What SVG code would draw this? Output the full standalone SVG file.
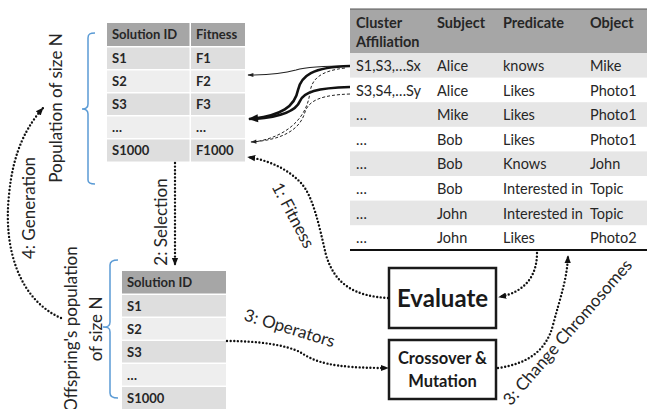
<svg xmlns="http://www.w3.org/2000/svg" width="647" height="409" viewBox="0 0 647 409">
<defs>
<style>
text{font-family:Lato,"Liberation Sans",sans-serif;fill:#262626}
.lbl{font-size:17px}
.tb{font-size:13px;font-weight:bold}
.rt{font-size:14.5px}
.rh{font-size:14.5px;font-weight:bold}
.hd{fill:#a6a6a6}
.g1{fill:#dedede}
.g2{fill:#eeeeee}
.rg{fill:#e6e6e6}
.brace{fill:none;stroke:#5b9bd5;stroke-width:1.5}
.dot{fill:none;stroke:#111;stroke-width:2.4;stroke-linecap:round;stroke-dasharray:0 3.6}
.box{fill:#fff;stroke:#1a1a1a;stroke-width:2.5}
.thin{fill:none;stroke:#222;stroke-width:1.1}
.thick{fill:none;stroke:#111;stroke-width:2.6}
.dash{fill:none;stroke:#222;stroke-width:1;stroke-dasharray:3 2}
</style>
<marker id="ad" viewBox="0 0 10 10" refX="9" refY="5" markerWidth="8" markerHeight="8" markerUnits="userSpaceOnUse" orient="auto"><path d="M0,1 L10,5 L0,9 z" fill="#111"/></marker>
<marker id="at" viewBox="0 0 10 10" refX="9" refY="5" markerWidth="7" markerHeight="6" markerUnits="userSpaceOnUse" orient="auto"><path d="M0,1.5 L10,5 L0,8.5 z" fill="#222"/></marker>
<marker id="ak" viewBox="0 0 10 10" refX="9" refY="5" markerWidth="11" markerHeight="10" markerUnits="userSpaceOnUse" orient="auto"><path d="M0,1 L10,5 L0,9 z" fill="#111"/></marker>
</defs>

<g id="population">
<rect class="hd" x="107" y="23" width="82.5" height="23"/>
<rect class="hd" x="191" y="23" width="54" height="23"/>
<rect class="g1" x="107" y="47.5" width="82.5" height="21.5"/><rect class="g1" x="191" y="47.5" width="54" height="21.5"/>
<rect class="g2" x="107" y="70.5" width="82.5" height="21.5"/><rect class="g2" x="191" y="70.5" width="54" height="21.5"/>
<rect class="g1" x="107" y="93.5" width="82.5" height="21.5"/><rect class="g1" x="191" y="93.5" width="54" height="21.5"/>
<rect class="g2" x="107" y="116.5" width="82.5" height="21.5"/><rect class="g2" x="191" y="116.5" width="54" height="21.5"/>
<rect class="g1" x="107" y="139.5" width="82.5" height="22"/><rect class="g1" x="191" y="139.5" width="54" height="22"/>
<text class="tb" x="112" y="39">Solution ID</text><text class="tb" x="196" y="39">Fitness</text>
<text class="tb" x="112" y="63">S1</text><text class="tb" x="196" y="63">F1</text>
<text class="tb" x="112" y="86">S2</text><text class="tb" x="196" y="86">F2</text>
<text class="tb" x="112" y="109">S3</text><text class="tb" x="196" y="109">F3</text>
<text class="tb" x="112" y="132">…</text><text class="tb" x="196" y="132">…</text>
<text class="tb" x="112" y="155">S1000</text><text class="tb" x="196" y="155">F1000</text>
<path class="brace" d="M95,33 C90,33 88,34 88,38 L88,104 C88,108 86,109 82,109 C86,109 88,110 88,114 L88,180 C88,183 90,184 95,184"/>
<text class="lbl" transform="translate(62,108) rotate(-90)" text-anchor="middle">Population of size N</text>
</g>

<g id="offspring">
<rect class="hd" x="122" y="271" width="104" height="22.5"/>
<rect class="g1" x="122" y="295" width="104" height="21.5"/>
<rect class="g2" x="122" y="318" width="104" height="21.5"/>
<rect class="g1" x="122" y="341" width="104" height="21.5"/>
<rect class="g2" x="122" y="364" width="104" height="21.5"/>
<rect class="g1" x="122" y="387" width="104" height="22"/>
<text class="tb" x="127" y="287">Solution ID</text>
<text class="tb" x="127" y="311">S1</text>
<text class="tb" x="127" y="334">S2</text>
<text class="tb" x="127" y="357">S3</text>
<text class="tb" x="127" y="380">…</text>
<text class="tb" x="127" y="403">S1000</text>
<path class="brace" d="M118,260 C113,260 110,261 110,265 L110,322 C110,326 108,327 103,327 C108,327 110,328 110,332 L110,393 C110,397 113,398 118,398"/>
<text class="lbl" transform="translate(77,329) rotate(-90)" text-anchor="middle">Offspring's population</text>
<text class="lbl" transform="translate(102,329) rotate(-90)" text-anchor="middle">of size N</text>
</g>

<g id="triples">
<rect class="hd" x="350" y="9" width="297" height="44"/>
<line x1="350" y1="9" x2="647" y2="9" stroke="#555" stroke-width="1.2"/>
<rect class="rg" x="350" y="53" width="297" height="24.6"/>
<rect class="rg" x="350" y="102.2" width="297" height="24.6"/>
<rect class="rg" x="350" y="151.4" width="297" height="24.6"/>
<rect class="rg" x="350" y="200.6" width="297" height="24.6"/>
<line x1="350" y1="250" x2="647" y2="250" stroke="#111" stroke-width="2"/>
<text class="rh" x="356" y="28">Cluster</text><text class="rh" x="356" y="47">Affiliation</text>
<text class="rh" x="437" y="28">Subject</text><text class="rh" x="503" y="28">Predicate</text><text class="rh" x="590" y="28">Object</text>
<text class="rt" x="356" y="71">S1,S3,…Sx</text><text class="rt" x="437" y="71">Alice</text><text class="rt" x="503" y="71">knows</text><text class="rt" x="590" y="71">Mike</text>
<text class="rt" x="356" y="95.6">S3,S4,…Sy</text><text class="rt" x="437" y="95.6">Alice</text><text class="rt" x="503" y="95.6">Likes</text><text class="rt" x="590" y="95.6">Photo1</text>
<text class="rt" x="356" y="120.2">…</text><text class="rt" x="437" y="120.2">Mike</text><text class="rt" x="503" y="120.2">Likes</text><text class="rt" x="590" y="120.2">Photo1</text>
<text class="rt" x="356" y="144.8">…</text><text class="rt" x="437" y="144.8">Bob</text><text class="rt" x="503" y="144.8">Likes</text><text class="rt" x="590" y="144.8">Photo1</text>
<text class="rt" x="356" y="169.4">…</text><text class="rt" x="437" y="169.4">Bob</text><text class="rt" x="503" y="169.4">Knows</text><text class="rt" x="590" y="169.4">John</text>
<text class="rt" x="356" y="194">…</text><text class="rt" x="437" y="194">Bob</text><text class="rt" x="503" y="194">Interested in</text><text class="rt" x="590" y="194">Topic</text>
<text class="rt" x="356" y="218.6">…</text><text class="rt" x="437" y="218.6">John</text><text class="rt" x="503" y="218.6">Interested in</text><text class="rt" x="590" y="218.6">Topic</text>
<text class="rt" x="356" y="243.2">…</text><text class="rt" x="437" y="243.2">John</text><text class="rt" x="503" y="243.2">Likes</text><text class="rt" x="590" y="243.2">Photo2</text>
</g>

<g id="evaluate">
<rect class="box" x="389" y="268" width="107" height="60"/>
<text x="442.5" y="307" text-anchor="middle" font-size="24" font-weight="bold" style="fill:#1a1a1a">Evaluate</text>
</g>

<g id="crossover">
<rect class="box" x="389" y="340" width="107" height="59"/>
<text x="442.5" y="364" text-anchor="middle" font-size="16.5" font-weight="bold" style="fill:#1a1a1a">Crossover &amp;</text>
<text x="442.5" y="387" text-anchor="middle" font-size="16.5" font-weight="bold" style="fill:#1a1a1a">Mutation</text>
</g>

<g id="connectors">
<path class="thin" d="M350,66 C322,66 306,67 296,70 C285,73 270,75 248,75" marker-end="url(#at)"/>
<path class="thick" d="M350,66 C312,67 301,76 298,90 C295,106 282,116 249,119" marker-end="url(#ak)"/>
<path class="thick" d="M350,87 C316,88 304,92 300,101 C296,111 280,117 255,119"/>
<path class="dash" d="M350,94 C322,95 309,100 305,112 C300,130 282,140 251,142" marker-end="url(#at)"/>
<path class="dash" d="M345,68 C320,71 312,79 310,92 C307,118 287,137 254,142"/>
<path class="dot" d="M175,163 L175,265" marker-end="url(#ad)"/>
<path class="dot" d="M388,298 C355,296 335,285 326,255 C319,225 313,196 301,183 C287,168 267,160 248,157" marker-end="url(#ad)"/>
<path class="dot" d="M537,253 C537,275 526,292 499,297" marker-end="url(#ad)"/>
<path class="dot" d="M227,341 C260,341 285,345 300,352 C315,362 330,368 388,368" marker-end="url(#ad)"/>
<path class="dot" d="M498,368 C526,364 546,352 553,325 C560,298 567,280 568,256" marker-end="url(#ad)"/>
<path class="dot" d="M61,318 C20,300 3,250 9,195 C13,150 28,125 43,108" marker-end="url(#ad)"/>
<text class="lbl" transform="translate(167,222) rotate(-90)" text-anchor="middle">2: Selection</text>
<text class="lbl" transform="translate(35,208) rotate(-90)" text-anchor="middle">4: Generation</text>
<text class="lbl" transform="translate(288,218) rotate(62)" text-anchor="middle">1: Fitness</text>
<text class="lbl" transform="translate(243,320) rotate(17)">3: Operators</text>
<text class="lbl" transform="translate(572,336) rotate(-49)" text-anchor="middle">3: Change Chromosomes</text>
</g>
</svg>
